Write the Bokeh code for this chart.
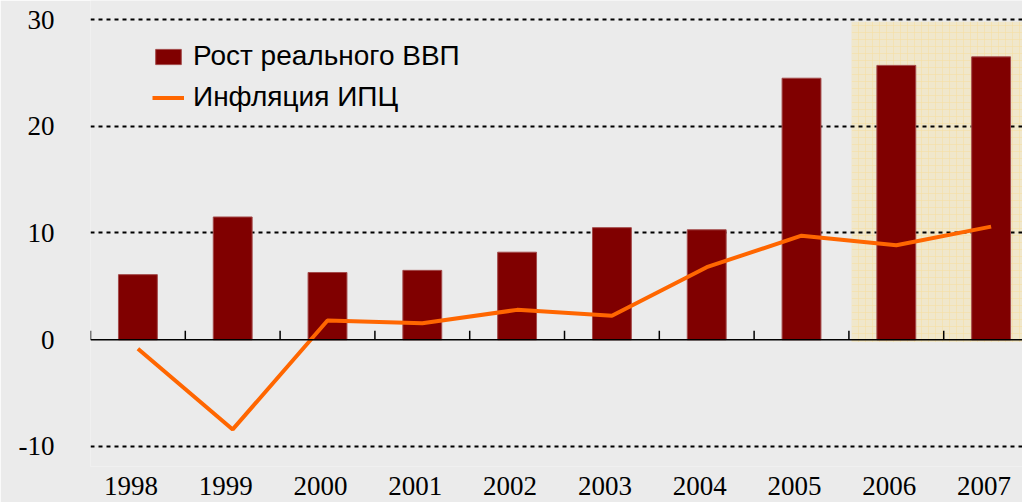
from bokeh.plotting import figure
from bokeh.models import FixedTicker, BoxAnnotation, Range1d, Span
from bokeh.embed import file_html
from bokeh.resources import INLINE

years = ["1998", "1999", "2000", "2001", "2002", "2003", "2004", "2005", "2006", "2007"]
gdp_growth = [6.1, 11.5, 6.3, 6.5, 8.2, 10.5, 10.3, 24.5, 25.7, 26.5]
cpi_inflation = [-0.85, -8.4, 1.8, 1.55, 2.8, 2.25, 6.8, 9.75, 8.85, 10.6]
y_ticks = [-10, 0, 10, 20, 30]
y_tick_labels = ["-10", "0", "10", "20", "30"]
forecast_years = ["2006", "2007"]
label_gdp = "Рост реального ВВП"
label_cpi = "Инфляция ИПЦ"

BG = "#ebebeb"
xs = list(range(len(years)))
PX_PER_UNIT = 10.675  # vertical scale (style)

p = figure(width=1022, height=502,
           x_range=Range1d(-0.5, 9.331), y_range=Range1d(-11.874, 31.78),
           output_backend="svg", toolbar_location=None,
           min_border_left=90, min_border_right=0, min_border_top=0, min_border_bottom=36,
           background_fill_color=BG, border_fill_color=BG, outline_line_color=None)

# forecast shading
f0 = years.index(forecast_years[0])
shade = BoxAnnotation(left=f0 - 0.47, right=len(years) + 1, bottom=-0.2, top=29.8,
                      fill_color="#f0e7cb", fill_alpha=1.0, line_color=None,
                      hatch_pattern="+", hatch_color="#f6dea0", hatch_alpha=0.55,
                      hatch_scale=7, hatch_weight=1, level="image")
p.add_layout(shade)

p.vbar(x=xs, top=gdp_growth, width=0.41, fill_color="#800000",
       line_color="#a34a4a", line_width=1, legend_label=label_gdp)
p.line(xs, cpi_inflation, line_color="#ff6600", line_width=4, legend_label=label_cpi)

# grid
p.xgrid.visible = False
p.ygrid.ticker = FixedTicker(ticks=[t for t in y_ticks if t != 0])
p.ygrid.grid_line_color = "black"
p.ygrid.grid_line_width = 2
p.ygrid.grid_line_dash = "4 4"

# y axis
ya = p.yaxis[0]
ya.ticker = FixedTicker(ticks=y_ticks)
ya.major_label_overrides = {t: s for t, s in zip(y_ticks, y_tick_labels)}
ya.axis_line_color = None
ya.major_tick_line_color = None
ya.minor_tick_line_color = None
ya.major_label_standoff = 30
ya.major_label_text_font = "Liberation Serif"
ya.major_label_text_font_size = "27px"
ya.major_label_text_color = "black"

# bottom labels axis
xa = p.xaxis[0]
label_pos = [round(i - 0.074, 3) for i in xs]
xa.ticker = FixedTicker(ticks=label_pos)
xa.major_label_overrides = {pos: y for pos, y in zip(label_pos, years)}
xa.axis_line_color = None
xa.major_tick_line_color = None
xa.minor_tick_line_color = None
xa.major_label_standoff = 4
xa.major_label_text_font = "Liberation Serif"
xa.major_label_text_font_size = "27px"
xa.major_label_text_color = "black"

# zero line with ticks at category boundaries
bounds = [i - 0.5 for i in xs] + [len(years) - 0.5]
tick_len = 9 / PX_PER_UNIT
p.segment(x0=bounds, y0=[0] * len(bounds), x1=bounds, y1=[tick_len] * len(bounds),
          line_color="black", line_width=1.5)
p.add_layout(Span(location=0, dimension="width", line_color="black", line_width=1.5))

# legend
lg = p.legend[0]
lg.location = (62, 353)
lg.background_fill_alpha = 0
lg.border_line_color = None
lg.padding = 0
lg.margin = 0
lg.spacing = 9
lg.glyph_width = 32
lg.glyph_height = 19
lg.label_standoff = 9
lg.label_text_font = "Liberation Sans"
lg.label_text_font_size = "28px"
lg.label_text_color = "black"

open("out.html", "w").write(file_html(p, INLINE))
